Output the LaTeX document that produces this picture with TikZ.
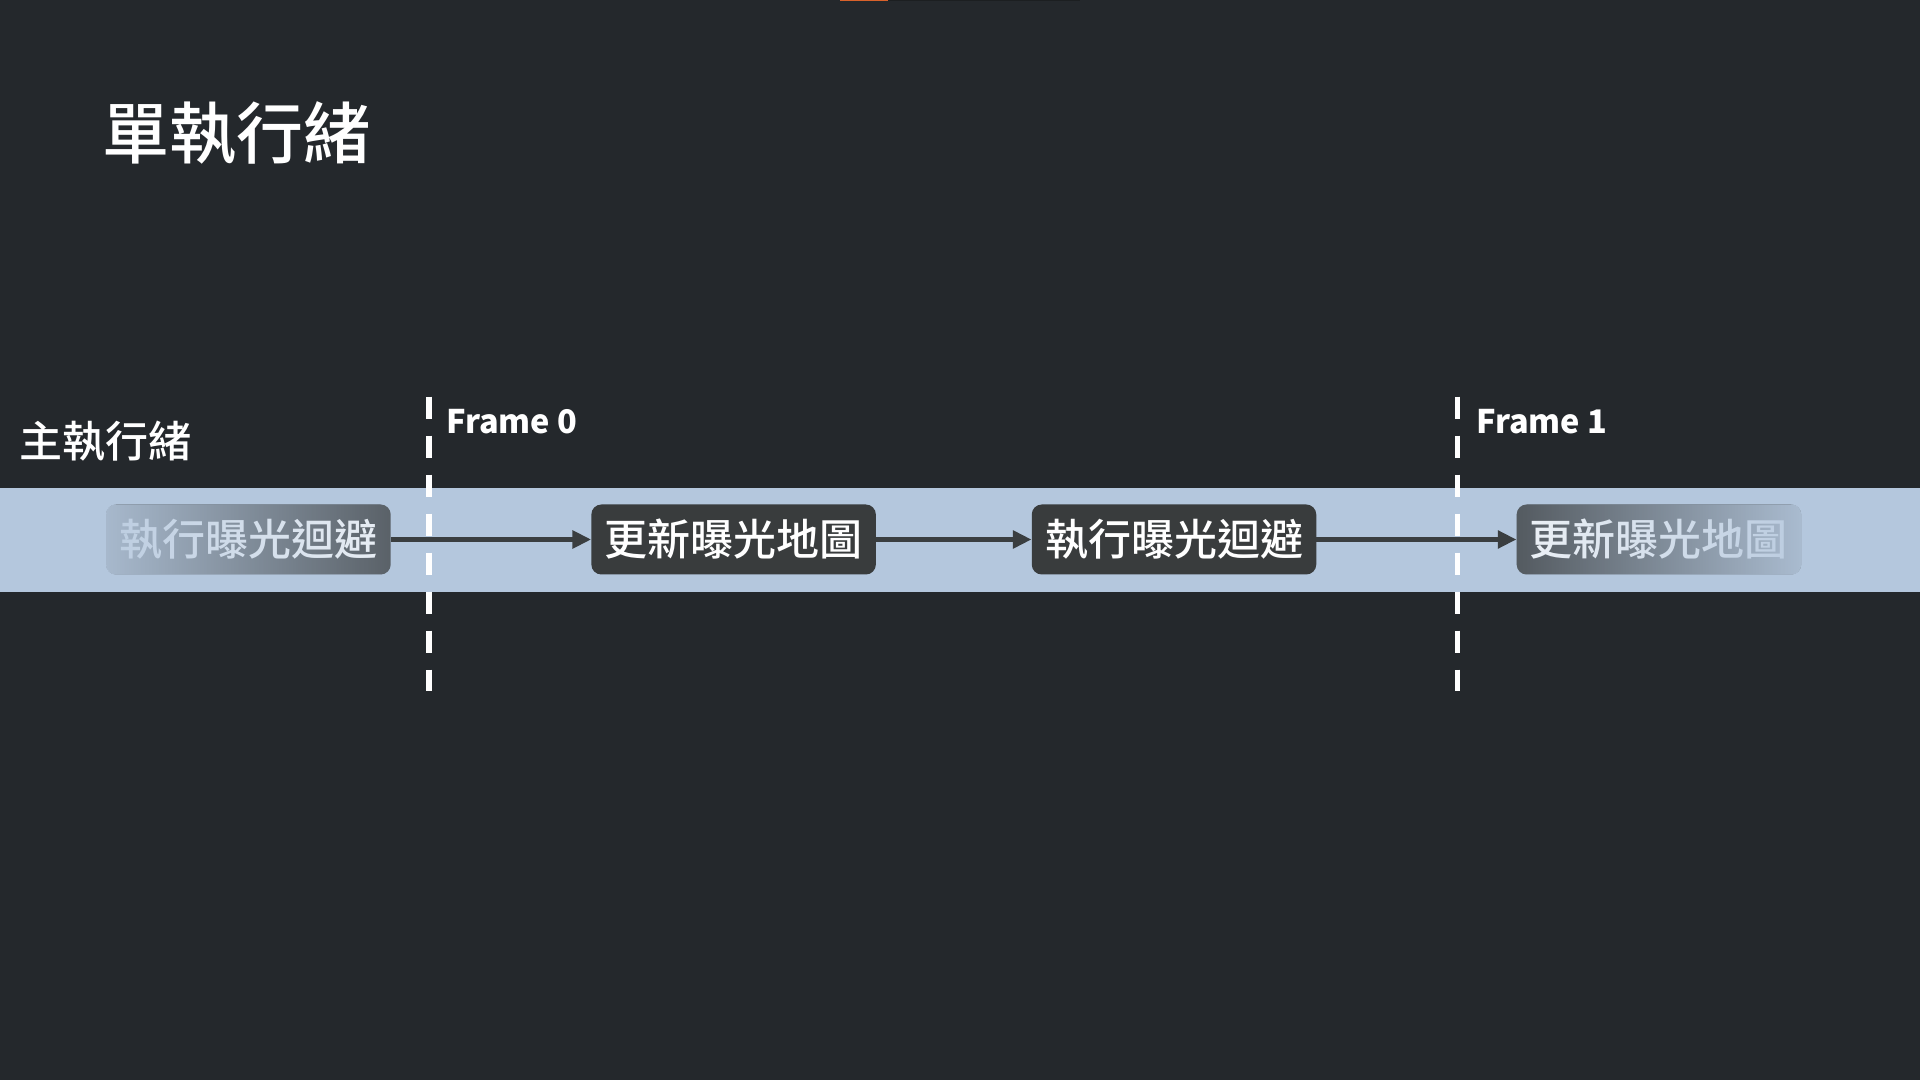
\documentclass[tikz,border=0pt]{standalone}
\usepackage{fontspec}
\setmainfont{Noto Sans CJK TC Medium}
\usetikzlibrary{positioning,arrows.meta,fadings}

\definecolor{slidebg}{HTML}{24282C}
\definecolor{laneblue}{HTML}{B4C7DD}
\definecolor{taskfill}{HTML}{393C3D}
\definecolor{flowline}{HTML}{3A3E40}
\definecolor{barorange}{HTML}{D9622B}
\definecolor{bardark}{HTML}{1C1F21}

\tikzfading[name=fade task in, left color=transparent!10, right color=transparent!73]
\tikzfading[name=fade task out, left color=transparent!78, right color=transparent!8]

\tikzset{
  task/.style={fill=taskfill, rounded corners=10pt, text=white, inner sep=0pt,
    minimum width=284.5pt, minimum height=70pt, font=\fontsize{43}{43}\selectfont},
  flow/.style={draw=flowline, line width=5.5pt, -{Triangle[length=18.7pt,width=17.3pt]}},
  framemark/.style={white, line width=5.5pt, dash pattern=on 22.3pt off 16.7pt},
  framelabel/.style={anchor=base west, inner sep=0pt, text=white,
    font=\bfseries\fontsize{32.5}{32.5}\selectfont}
}

\begin{document}
\begin{tikzpicture}[x=1pt,y=1pt]
  \fill[slidebg] (0,0) rectangle (1920,1080);
  \fill[barorange] (840,1079) rectangle (888,1080);
  \fill[bardark] (888,1079) rectangle (1080,1080);

  \node[anchor=west, inner sep=0pt, text=white, font=\fontsize{67}{67}\selectfont]
    (title) at (102,947) {單執行緒};
  \node[anchor=west, inner sep=0pt, text=white, font=\fontsize{43}{43}\selectfont]
    (lanelabel) at (19,639) {主執行緒};

  % lane
  \fill[laneblue] (0,488.3) rectangle (1920,592.3);

  \node[task] (scan0) at (248.4,540.5) {執行曝光迴避};
  \node[task, right=200.3pt of scan0] (update0) {更新曝光地圖};
  \node[task, right=155.5pt of update0] (scan1) {執行曝光迴避};
  \node[task, right=200pt of scan1] (update1) {更新曝光地圖};

  % faded ends
  \fill[laneblue, rounded corners=10pt, path fading=fade task in]
    (scan0.south west) rectangle (scan0.north east);
  \fill[laneblue, rounded corners=10pt, path fading=fade task out]
    (update1.south west) rectangle (update1.north east);

  \draw[flow] (scan0) -- (update0);
  \draw[flow] (update0) -- (scan1);
  \draw[flow] (scan1) -- (update1);

  % frame boundaries
  \foreach \fx/\fname in {428.9/f0, 1457.7/f1} {
    \coordinate (\fname top) at (\fx,683.3);
    \coordinate (\fname bot) at (\fx,389.3);
    \draw[framemark] (\fname top) -- (\fname bot);
  }
  \node[framelabel] (f0label) at (446,646.7) {Frame 0};
  \node[framelabel] (f1label) at (1476,646.7) {Frame 1};
\end{tikzpicture}
\end{document}
